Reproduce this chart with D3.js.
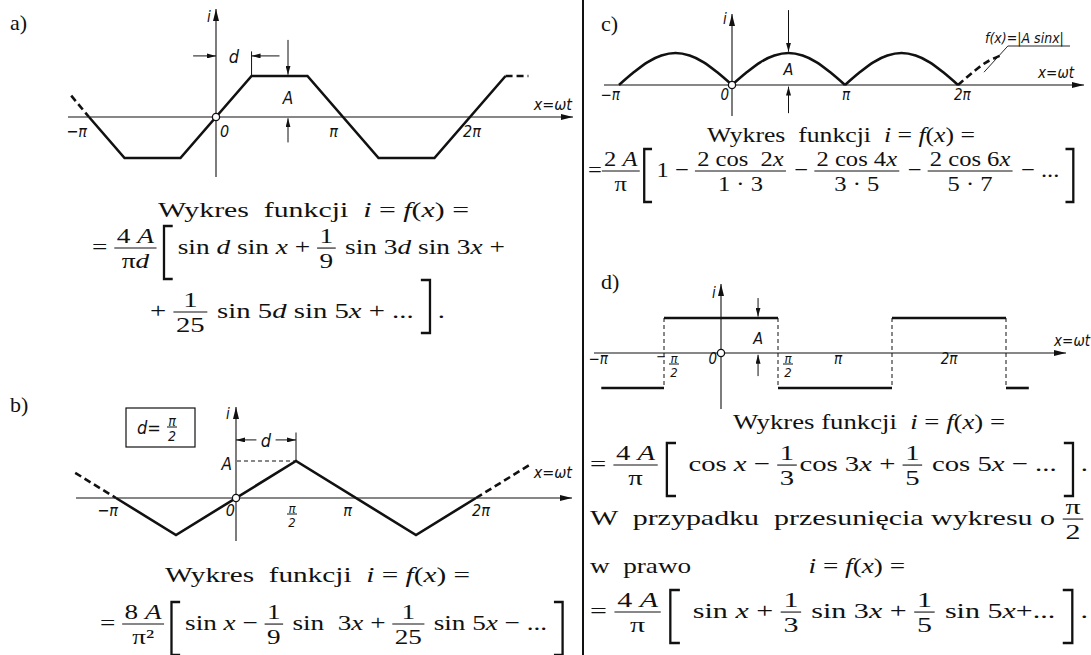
<!DOCTYPE html>
<html>
<head>
<meta charset="utf-8">
<script src="https://cdn.jsdelivr.net/npm/d3@7"></script>
<style>
  html, body { margin: 0; padding: 0; background: #fff; }
  svg { display: block; }
  .lab { font-family: "Liberation Sans Narrow", "DejaVu Sans Condensed", "Liberation Sans", sans-serif; font-style: italic; fill: #111; }
  .math text { font-family: "Liberation Serif", "DejaVu Serif", serif; fill: #111; }
  .tag { font-family: "Liberation Serif", "DejaVu Serif", serif; fill: #111; }
</style>
</head>
<body>
<svg id="fig" width="1091" height="655"></svg>
<script>
// ---- waveform data: x in multiples of π, y in multiples of A ----
// a) trapezoid wave
const aSolid = [[-1.0, 0], [-0.72, -1], [-0.28, -1], [0.28, 1], [0.72, 1], [1.28, -1], [1.72, -1], [2.28, 1]];
const aDashL = [[-1.14, 0.52], [-1.0, 0]];
const aDashR = [[2.28, 1], [2.46, 1]];
const aTicks = [{ v: -1, s: "−π" }, { v: 0, s: "0" }, { v: 1, s: "π" }, { v: 2, s: "2π" }];

// b) triangle wave (d = π/2)
const bSolid = [[-1.0, 0], [-0.5, -1], [0.5, 1], [1.5, -1], [2.0, 0]];
const bDashL = [[-1.34, 0.68], [-1.0, 0]];
const bDashR = [[2.0, 0], [2.45, 0.9]];
const bTicks = [{ v: -1, s: "−π" }, { v: 0, s: "0" }, { v: 1, s: "π" }, { v: 2, s: "2π" }];

// c) rectified sine |A sin x|: one arch sampled across a half period
const archX = [0, 0.125, 0.25, 0.375, 0.5, 0.625, 0.75, 0.875, 1];
const archY = [0, 0.38, 0.71, 0.92, 1, 0.92, 0.71, 0.38, 0];
const cArchStarts = [-1, 0, 1];
const cDashX = [2, 2.125, 2.25, 2.375];
const cDashY = [0, 0.38, 0.71, 0.92];
const cTicks = [{ v: -1, s: "−π" }, { v: 0, s: "0" }, { v: 1, s: "π" }, { v: 2, s: "2π" }];

// d) square wave: [from, to, level]
const dLevels = [[-1.05, -0.5, -1], [-0.5, 0.5, 1], [0.5, 1.5, -1], [1.5, 2.5, 1], [2.5, 2.7, -1]];
const dEdges = [-0.5, 0.5, 1.5, 2.5];
const dTicks = [{ v: -1, s: "−π" }, { v: 0, s: "0" }, { v: 1, s: "π" }, { v: 2, s: "2π" }];
const dHalfTicks = [-0.5, 0.5];

// ---- drawing ----
const svg = d3.select("#fig");
const INK = "#111";

const defs = svg.append("defs");
defs.append("marker").attr("id", "ax").attr("viewBox", "0 0 12 6")
  .attr("refX", 12).attr("refY", 3).attr("markerWidth", 12).attr("markerHeight", 6)
  .attr("markerUnits", "userSpaceOnUse").attr("orient", "auto")
  .append("path").attr("d", "M0,0 L12,3 L0,6 Z").attr("fill", INK);
defs.append("marker").attr("id", "dm").attr("viewBox", "0 0 9 5")
  .attr("refX", 9).attr("refY", 2.5).attr("markerWidth", 9).attr("markerHeight", 5)
  .attr("markerUnits", "userSpaceOnUse").attr("orient", "auto")
  .append("path").attr("d", "M0,0 L9,2.5 L0,5 Z").attr("fill", INK);

function panel(cfg) {
  const x = d3.scaleLinear().domain([0, 1]).range([cfg.ox, cfg.ox + cfg.kx]);
  const y = d3.scaleLinear().domain([0, 1]).range([cfg.oy, cfg.oy - cfg.ky]);
  const g = svg.append("g");
  g.append("line").attr("x1", cfg.ax0).attr("x2", cfg.ax1).attr("y1", y(0)).attr("y2", y(0))
    .attr("stroke", INK).attr("stroke-width", 1.1).attr("marker-end", "url(#ax)");
  g.append("line").attr("x1", x(0)).attr("x2", x(0)).attr("y1", cfg.ay0).attr("y2", cfg.ay1)
    .attr("stroke", INK).attr("stroke-width", 1.1).attr("marker-end", "url(#ax)");
  const p = { x, y, g, cfg };
  p.line = d3.line().x(d => x(d[0])).y(d => y(d[1]));
  return p;
}
function wave(p, pts, dashed, curve) {
  const ln = curve ? p.line.curve(curve) : p.line.curve(d3.curveLinear);
  p.g.append("path").datum(pts).attr("d", ln).attr("fill", "none")
    .attr("stroke", INK).attr("stroke-width", 2.6).attr("stroke-linejoin", "miter")
    .attr("stroke-dasharray", dashed ? "7,4" : null);
}
function originDot(p) {
  p.g.append("circle").attr("cx", p.x(0)).attr("cy", p.y(0)).attr("r", 3.6)
    .attr("fill", "#fff").attr("stroke", INK).attr("stroke-width", 1.3);
}
function lab(g, x, y, s, size, anchor) {
  return g.append("text").attr("class", "lab").attr("x", x).attr("y", y)
    .attr("font-size", size).attr("text-anchor", anchor || "start").text(s);
}
function seg(g, x1, y1, x2, y2, opts) {
  opts = opts || {};
  return g.append("line").attr("x1", x1).attr("y1", y1).attr("x2", x2).attr("y2", y2)
    .attr("stroke", INK).attr("stroke-width", opts.w || 1)
    .attr("stroke-dasharray", opts.dash || null)
    .attr("marker-end", opts.arrow ? "url(#dm)" : null);
}
// small stacked fraction used in the graph labels
function gfrac(g, cx, yBar, num, den, size) {
  lab(g, cx, yBar - 1.5, num, size, "middle");
  lab(g, cx, yBar + size * 1.02, den, size, "middle");
  seg(g, cx - 5, yBar, cx + 5, yBar, { w: 1 });
}
function ticks(p, list, nudge, base, size) {
  list.forEach(t => {
    const n = nudge[t.v];
    lab(p.g, p.x(t.v) + n[1], p.y(0) + base, t.s, size, n[0]);
  });
}

// ---------- panel a ----------
const A = panel({ ox: 216, oy: 117, kx: 127, ky: 41, ax0: 68, ax1: 573, ay0: 177, ay1: 9 });
wave(A, aSolid); wave(A, aDashL, true); wave(A, aDashR, true);
originDot(A);
ticks(A, aTicks, { "-1": ["end", -2], "0": ["start", 4], "1": ["end", -5], "2": ["start", -7] }, 20, 16);
lab(A.g, A.x(0) - 9, 22, "i", 15);
lab(A.g, 572, 110, "x=ωt", 16, "end");
// d dimension
seg(A.g, A.x(-0.18), A.y(1.49), A.x(0), A.y(1.49), { arrow: true });
seg(A.g, A.x(0.5), A.y(1.49), A.x(0.28), A.y(1.49), { arrow: true });
seg(A.g, A.x(0.28), A.y(1.6), A.x(0.28), A.y(1), { w: 1 });
lab(A.g, A.x(0.14), 63, "d", 18, "middle");
// A dimension
seg(A.g, A.x(0.567), A.y(1.88), A.x(0.567), A.y(1.03), { arrow: true });
seg(A.g, A.x(0.567), A.y(-0.62), A.x(0.567), A.y(-0.03), { arrow: true });
lab(A.g, A.x(0.567), 104, "A", 17, "middle");

// ---------- panel b ----------
const B = panel({ ox: 236, oy: 498, kx: 120, ky: 37, ax0: 76, ax1: 572, ay0: 541, ay1: 407 });
wave(B, bSolid); wave(B, bDashL, true); wave(B, bDashR, true);
originDot(B);
ticks(B, bTicks, { "-1": ["end", 2], "0": ["end", -1], "1": ["end", -4], "2": ["start", -4] }, 18, 16);
gfrac(B.g, B.x(0.5) - 4, 514, "π", "2", 13);
lab(B.g, B.x(0) - 10, 419, "i", 15);
lab(B.g, 572, 478, "x=ωt", 16, "end");
seg(B.g, B.x(0) + 1, B.y(1), B.x(0.5), B.y(1), { dash: "4,3" });
lab(B.g, B.x(0) - 4, 470, "A", 17, "end");
seg(B.g, B.x(0.5), B.y(1.77), B.x(0.5), B.y(1), { w: 1 });
seg(B.g, B.x(0.17), B.y(1.57), B.x(0), B.y(1.57), { arrow: true });
seg(B.g, B.x(0.33), B.y(1.57), B.x(0.5), B.y(1.57), { arrow: true });
lab(B.g, B.x(0.25), 447, "d", 18, "middle");
// boxed note d = π/2
B.g.append("rect").attr("x", 126).attr("y", 408).attr("width", 69).attr("height", 39)
  .attr("fill", "none").attr("stroke", INK).attr("stroke-width", 1.2);
lab(B.g, 137, 434, "d=", 18);
gfrac(B.g, 172, 427, "π", "2", 14);

// ---------- panel c ----------
const C = panel({ ox: 732, oy: 85, kx: 113, ky: 32, ax0: 604, ax1: 1084, ay0: 116, ay1: 14 });
cArchStarts.forEach(s => {
  wave(C, archX.map((v, i) => [s + v, archY[i]]), false, d3.curveCardinal);
});
wave(C, cDashX.map((v, i) => [v, cDashY[i]]), true, d3.curveCardinal);
originDot(C);
ticks(C, cTicks, { "-1": ["end", 1], "0": ["end", -3], "1": ["start", -3], "2": ["start", -4] }, 15, 15);
lab(C.g, C.x(0) - 9, 24, "i", 15);
lab(C.g, 1074, 78, "x=ωt", 15, "end");
seg(C.g, C.x(0.5), C.y(2.34), C.x(0.5), C.y(1.04), { arrow: true });
seg(C.g, C.x(0.5), C.y(-0.88), C.x(0.5), C.y(-0.05), { arrow: true });
lab(C.g, C.x(0.5), 75, "A", 16, "middle");
// leader to the curve label
C.g.append("path").attr("d", `M${C.x(2.23)},${C.y(0.4)} L${C.x(2.22) + 25},46 H1070`)
  .attr("fill", "none").attr("stroke", INK).attr("stroke-width", 0.9);
lab(C.g, 985, 43, "f(x)=|A sinx|", 14);

// ---------- panel d ----------
const D = panel({ ox: 721, oy: 353, kx: 114, ky: 35, ax0: 594, ax1: 1066, ay0: 409, ay1: 284 });
dEdges.forEach(e => seg(D.g, D.x(e), D.y(1), D.x(e), D.y(-1), { dash: "4,3" }));
dLevels.forEach(l => wave(D, [[l[0], l[2]], [l[1], l[2]]]));
originDot(D);
ticks(D, dTicks, { "-1": ["end", 1], "0": ["end", -4], "1": ["start", -1], "2": ["middle", 0] }, 11, 15);
dHalfTicks.forEach(v => {
  gfrac(D.g, D.x(v) + 10, 364, "π", "2", 13);
  if (v < 0) lab(D.g, D.x(v) + 2, 361, "−", 13, "end");
});
lab(D.g, D.x(0) - 9, 298, "i", 15);
lab(D.g, 1090, 346, "x=ωt", 15, "end");
seg(D.g, D.x(0.325), D.y(1.57), D.x(0.325), D.y(1.04), { arrow: true });
seg(D.g, D.x(0.325), D.y(-0.66), D.x(0.325), D.y(-0.05), { arrow: true });
lab(D.g, D.x(0.325), 344, "A", 16, "middle");

// divider between columns
svg.append("line").attr("x1", 583).attr("x2", 583).attr("y1", 0).attr("y2", 655)
  .attr("stroke", INK).attr("stroke-width", 2);

// panel tags
[["a)", 10, 30], ["b)", 10, 412], ["c)", 601, 31], ["d)", 601, 289]].forEach(t => {
  svg.append("text").attr("class", "tag").attr("x", t[1]).attr("y", t[2]).attr("font-size", 22).text(t[0]);
});

// ---------- formula typesetting ----------
const FS = 22;
function runs(s) {
  return s.split("*").map((p, i) => ({ t: p, it: i % 2 === 1 })).filter(r => r.t.length);
}
const tx = s => ({ kind: "t", runs: runs(s) });
const sp = w => ({ kind: "sp", w });
const fr = (n, d) => ({ kind: "fr", num: runs(n), den: runs(d) });
const br = (open, top, bot) => ({ kind: "br", open, top, bot });

function drawRuns(g, rs, x, y) {
  let cx = x;
  rs.forEach(r => {
    const el = g.append("text").attr("x", cx).attr("y", y).attr("font-size", FS)
      .attr("font-style", r.it ? "italic" : "normal").style("white-space", "pre").text(r.t);
    cx += el.node().getComputedTextLength();
  });
  return cx - x;
}
function mathRow(tokens, x0, x1, base) {
  const g = svg.append("g").attr("class", "math");
  const ax = -FS * 0.27;
  let x = 0;
  tokens.forEach(tok => {
    if (tok.kind === "t") x += drawRuns(g, tok.runs, x, 0);
    else if (tok.kind === "sp") x += tok.w;
    else if (tok.kind === "fr") {
      const gn = g.append("g"), gd = g.append("g");
      const wn = drawRuns(gn, tok.num, 0, 0), wd = drawRuns(gd, tok.den, 0, 0);
      const w = Math.max(wn, wd) + 4;
      gn.attr("transform", `translate(${x + (w - wn) / 2},${ax - 5})`);
      gd.attr("transform", `translate(${x + (w - wd) / 2},${ax + FS * 0.9})`);
      g.append("line").attr("x1", x).attr("x2", x + w).attr("y1", ax).attr("y2", ax)
        .attr("stroke", INK).attr("stroke-width", 1.1).attr("vector-effect", "non-scaling-stroke");
      x += w + 2;
    } else if (tok.kind === "br") {
      const top = tok.top !== undefined ? tok.top : -28;
      const bot = tok.bot !== undefined ? tok.bot : 25;
      const w = 7;
      const d = tok.open ? `M${x + w + 2},${top}H${x + 2}V${bot}H${x + w + 2}`
                         : `M${x},${top}H${x + w}V${bot}H${x}`;
      g.append("path").attr("d", d).attr("fill", "none").attr("stroke", INK)
        .attr("stroke-width", 2.3).attr("vector-effect", "non-scaling-stroke");
      x += w + 6;
    }
  });
  g.attr("transform", `translate(${x0},${base}) scale(${(x1 - x0) / x},1)`);
}

const head = [tx("Wykres  funkcji  *i* = *f*(*x*) =")];

// a)
mathRow(head, 158, 469, 217);
mathRow([tx("= "), fr("4 *A*", "π*d*"), sp(2), br(true),
  tx("sin *d* sin *x* + "), fr("1", "9"), tx(" sin 3*d* sin 3*x* +")], 92, 505, 254);
mathRow([tx("+ "), fr("1", "25"), tx(" sin 5*d* sin 5*x* + ... "), br(false, -38, 15), tx(".")], 150, 445, 318);

// b)
mathRow(head, 165, 470, 582);
mathRow([tx("= "), fr("8 *A*", "π²"), sp(2), br(true),
  tx("sin *x* − "), fr("1", "9"), tx(" sin  3*x* + "), fr("1", "25"), tx(" sin 5*x* − ... "), br(false)], 100, 570, 630);

// c)
mathRow(head, 707, 975, 142);
mathRow([tx("="), fr("2 *A*", "π"), br(true), tx("1 − "), fr("2 cos  2*x*", "1 · 3"), tx(" − "),
  fr("2 cos 4*x*", "3 · 5"), tx(" − "), fr("2 cos 6*x*", "5 · 7"), tx(" − ... "), br(false)], 588, 1080, 177);

// d)
mathRow([tx("Wykres funkcji  *i* = *f*(*x*) =")], 733, 1005, 429);
mathRow([tx("= "), fr("4 *A*", "π"), sp(3), br(true), tx(" cos *x* − "), fr("1", "3"),
  tx("cos 3*x* + "), fr("1", "5"), tx(" cos 5*x* − ... "), br(false), tx(".")], 590, 1088, 471);
mathRow([tx("W  przypadku  przesunięcia wykresu o "), fr("π", "2")], 590, 1086, 525);
mathRow([tx("w  prawo"), sp(95), tx("*i* = *f*(*x*) =")], 590, 905, 573);
mathRow([tx("= "), fr("4 *A*", "π"), sp(3), br(true), tx(" sin *x* + "), fr("1", "3"),
  tx(" sin 3*x* + "), fr("1", "5"), tx(" sin 5*x*+... "), br(false), tx(".")], 590, 1088, 618);
</script>
</body>
</html>
